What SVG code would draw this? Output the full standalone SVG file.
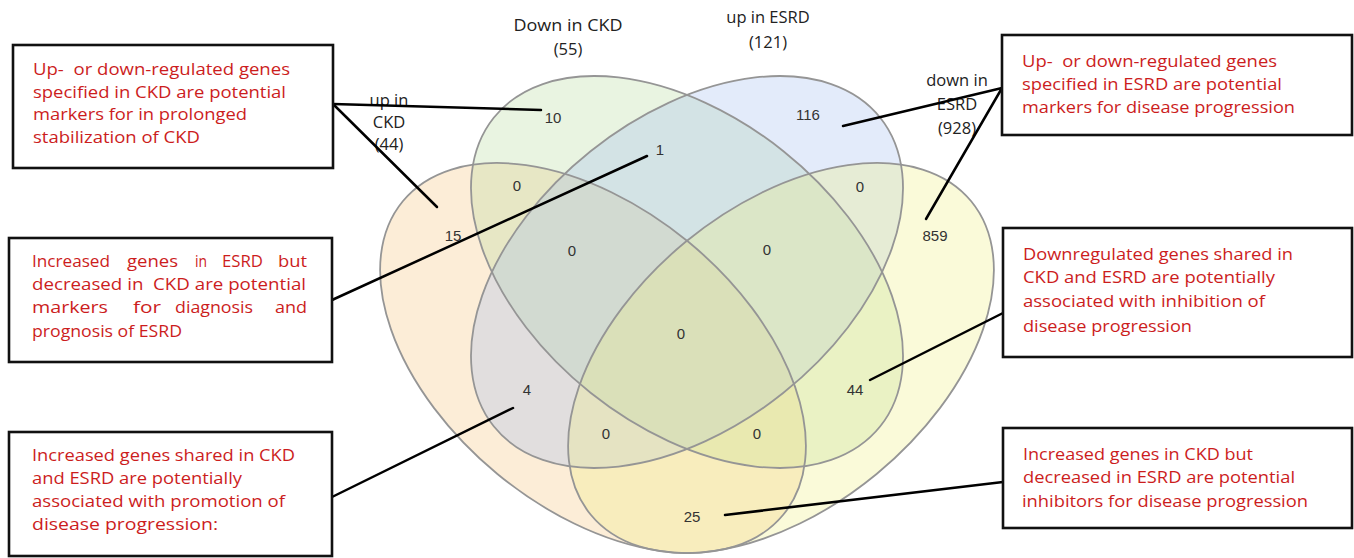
<svg xmlns="http://www.w3.org/2000/svg" width="1354" height="558" viewBox="0 0 1354 558">
<style>
.outline{fill:none;stroke:#959595;stroke-width:1.8}
.num{font-family:"Liberation Sans",Arial,sans-serif;font-size:15px;fill:#333;text-anchor:middle}
.set{font-family:"Open Sans",sans-serif;font-size:16.5px;fill:#222;text-anchor:middle}
.box{fill:#fff;stroke:#111;stroke-width:2.6}
.note{font-family:"Open Sans",sans-serif;font-size:16px;fill:#cc1d1d}
.conn line{stroke:#000;stroke-width:2.5;stroke-linecap:round}
</style>
<rect width="1354" height="558" fill="#fff"/>
<g id="venn-fills">
<ellipse cx="593" cy="358" rx="246.5" ry="150.3" transform="rotate(39.5 593 358)" fill="#F5C27A" fill-opacity="0.3"/>
<ellipse cx="687" cy="272" rx="247.3" ry="154.6" transform="rotate(38.6 687 272)" fill="#B5DC9A" fill-opacity="0.3"/>
<ellipse cx="687" cy="272" rx="247.3" ry="154.6" transform="rotate(-38.6 687 272)" fill="#A3BDF0" fill-opacity="0.3"/>
<ellipse cx="781" cy="358" rx="246.5" ry="150.3" transform="rotate(-39.5 781 358)" fill="#EEEE80" fill-opacity="0.3"/>
</g>
<g id="set-up-ckd">
<ellipse class="outline" cx="593" cy="358" rx="246.5" ry="150.3" transform="rotate(39.5 593 358)"/>
<text class="set" x="389" y="106">up in</text>
<text class="set" x="389" y="128">CKD</text>
<text class="set" x="389" y="150">(44)</text>
</g>
<g id="set-down-ckd">
<ellipse class="outline" cx="687" cy="272" rx="247.3" ry="154.6" transform="rotate(38.6 687 272)"/>
<text class="set" x="568" y="31" textLength="109" lengthAdjust="spacingAndGlyphs">Down in CKD</text>
<text class="set" x="568" y="55">(55)</text>
</g>
<g id="set-up-esrd">
<ellipse class="outline" cx="687" cy="272" rx="247.3" ry="154.6" transform="rotate(-38.6 687 272)"/>
<text class="set" x="768" y="23">up in ESRD</text>
<text class="set" x="768" y="48">(121)</text>
</g>
<g id="set-down-esrd">
<ellipse class="outline" cx="781" cy="358" rx="246.5" ry="150.3" transform="rotate(-39.5 781 358)"/>
<text class="set" x="957" y="86">down in</text>
<text class="set" x="957" y="110">ESRD</text>
<text class="set" x="957" y="134">(928)</text>
</g>
<g id="region-counts">
<text class="num" x="553" y="123">10</text>
<text class="num" x="808" y="120">116</text>
<text class="num" x="660" y="155">1</text>
<text class="num" x="517" y="191">0</text>
<text class="num" x="860" y="192">0</text>
<text class="num" x="453" y="241">15</text>
<text class="num" x="935" y="241">859</text>
<text class="num" x="572" y="256">0</text>
<text class="num" x="767" y="255">0</text>
<text class="num" x="681" y="339">0</text>
<text class="num" x="527" y="395">4</text>
<text class="num" x="855" y="395">44</text>
<text class="num" x="606" y="439">0</text>
<text class="num" x="757" y="439">0</text>
<text class="num" x="692" y="522">25</text>
</g>
<g id="connectors" class="conn">
<line x1="333" y1="104" x2="541" y2="110"/>
<line x1="333" y1="104" x2="437" y2="207"/>
<line x1="332" y1="300" x2="647" y2="156"/>
<line x1="332" y1="497" x2="513" y2="408"/>
<line x1="1002" y1="88" x2="843" y2="126"/>
<line x1="1002" y1="88" x2="926" y2="219"/>
<line x1="1003" y1="313" x2="870" y2="380"/>
<line x1="1003" y1="482" x2="725" y2="515"/>
</g>
<g id="note-ckd-specific">
<rect class="box" x="13" y="45" width="320" height="123"/>
<text class="note"><tspan x="33" y="75" textLength="257" lengthAdjust="spacingAndGlyphs">Up-&#160; or down-regulated genes</tspan><tspan x="33" y="97.5" textLength="253" lengthAdjust="spacingAndGlyphs">specified in CKD are potential</tspan><tspan x="33" y="120" textLength="214" lengthAdjust="spacingAndGlyphs">markers for in prolonged</tspan><tspan x="33" y="142.5" textLength="167" lengthAdjust="spacingAndGlyphs">stabilization of CKD</tspan></text>
</g>
<g id="note-up-esrd-down-ckd">
<rect class="box" x="9" y="238" width="323" height="124"/>
<text class="note" x="32" y="267" textLength="78" lengthAdjust="spacingAndGlyphs">Increased</text>
<text class="note" x="127" y="267" textLength="51" lengthAdjust="spacingAndGlyphs">genes</text>
<text class="note" x="195" y="267" textLength="12" lengthAdjust="spacingAndGlyphs">in</text>
<text class="note" x="222" y="267" textLength="41" lengthAdjust="spacingAndGlyphs">ESRD</text>
<text class="note" x="278" y="267" textLength="29" lengthAdjust="spacingAndGlyphs">but</text>
<text class="note" x="32" y="290" textLength="274" lengthAdjust="spacingAndGlyphs">decreased in&#160; CKD are potential</text>
<text class="note" x="32" y="313" textLength="76" lengthAdjust="spacingAndGlyphs">markers</text>
<text class="note" x="133" y="313" textLength="28" lengthAdjust="spacingAndGlyphs">for</text>
<text class="note" x="175" y="313" textLength="78" lengthAdjust="spacingAndGlyphs">diagnosis</text>
<text class="note" x="275" y="313" textLength="32" lengthAdjust="spacingAndGlyphs">and</text>
<text class="note" x="32" y="337" textLength="150" lengthAdjust="spacingAndGlyphs">prognosis of ESRD</text>
</g>
<g id="note-up-shared">
<rect class="box" x="9" y="432" width="323" height="124"/>
<text class="note"><tspan x="32" y="461" textLength="263" lengthAdjust="spacingAndGlyphs">Increased genes shared in CKD</tspan><tspan x="32" y="484" textLength="210" lengthAdjust="spacingAndGlyphs">and ESRD are potentially</tspan><tspan x="32" y="507" textLength="253" lengthAdjust="spacingAndGlyphs">associated with promotion of</tspan><tspan x="32" y="530" textLength="186" lengthAdjust="spacingAndGlyphs">disease progression:</tspan></text>
</g>
<g id="note-esrd-specific">
<rect class="box" x="1002" y="35" width="350" height="100"/>
<text class="note"><tspan x="1022" y="67" textLength="255" lengthAdjust="spacingAndGlyphs">Up-&#160; or down-regulated genes</tspan><tspan x="1022" y="90" textLength="260" lengthAdjust="spacingAndGlyphs">specified in ESRD are potential</tspan><tspan x="1022" y="113" textLength="273" lengthAdjust="spacingAndGlyphs">markers for disease progression</tspan></text>
</g>
<g id="note-down-shared">
<rect class="box" x="1003" y="228" width="349" height="129"/>
<text class="note"><tspan x="1023" y="260" textLength="270" lengthAdjust="spacingAndGlyphs">Downregulated genes shared in</tspan><tspan x="1023" y="283" textLength="252" lengthAdjust="spacingAndGlyphs">CKD and ESRD are potentially</tspan><tspan x="1023" y="307" textLength="242" lengthAdjust="spacingAndGlyphs">associated with inhibition of</tspan><tspan x="1023" y="332" textLength="169" lengthAdjust="spacingAndGlyphs">disease progression</tspan></text>
</g>
<g id="note-up-ckd-down-esrd">
<rect class="box" x="1003" y="428" width="349" height="100"/>
<text class="note"><tspan x="1023" y="460" textLength="230" lengthAdjust="spacingAndGlyphs">Increased genes in CKD but</tspan><tspan x="1023" y="483" textLength="272" lengthAdjust="spacingAndGlyphs">decreased in ESRD are potential</tspan><tspan x="1022" y="507" textLength="286" lengthAdjust="spacingAndGlyphs">inhibitors for disease progression</tspan></text>
</g>
</svg>
